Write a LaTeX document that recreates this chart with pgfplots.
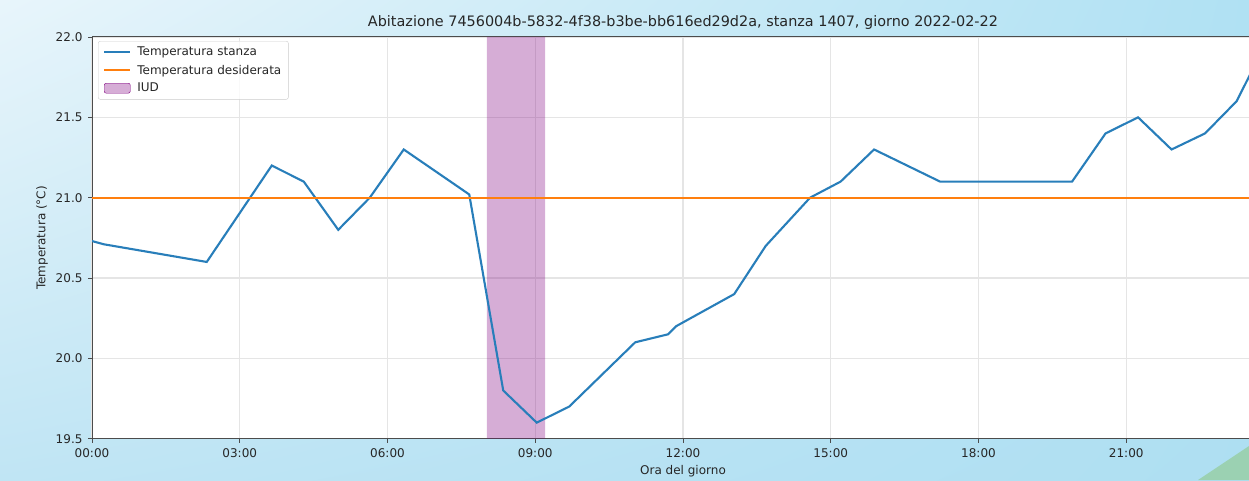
\documentclass[border=0pt]{standalone}
\usepackage{pgfplots}
\pgfplotsset{compat=1.18}
\usetikzlibrary{shadings}
\usepackage{fontspec}
\setmainfont{DejaVu Sans}
\definecolor{bgUL}{RGB}{232,245,251}
\definecolor{bgUR}{RGB}{176,225,243}
\definecolor{bgLL}{RGB}{192,229,244}
\definecolor{bgLR}{RGB}{174,223,242}
\definecolor{triG}{RGB}{155,209,178}
\definecolor{mblue}{RGB}{40,126,186}
\definecolor{morange}{RGB}{255,127,14}
\definecolor{mpurple}{RGB}{128,0,128}
\definecolor{txt}{RGB}{38,38,38}
\begin{document}
\begin{tikzpicture}[x=1pt,y=1pt]
\useasboundingbox (0,0) rectangle (1249,480);
\clip (0,0) rectangle (1249,480);
\shade[upper left=bgUL, upper right=bgUR, lower left=bgLL, lower right=bgLR] (0,0) rectangle (1249,480);
\fill[triG] (1198,0) -- (1249,34) -- (1249,0) -- cycle;
\begin{axis}[
  at={(92pt,41.3pt)}, anchor=south west,
  scale only axis, width=1182pt, height=401.7pt,
  axis background/.style={fill=white},
  xmin=0, xmax=24, ymin=19.5, ymax=22,
  xtick={0,3,6,9,12,15,18,21},
  xticklabels={00:00,03:00,06:00,09:00,12:00,15:00,18:00,21:00},
  ytick={19.5,20,20.5,21,21.5,22},
  tick label style={font=\fontsize{12}{14}\selectfont, text=txt},
  xticklabel style={yshift=-2.5pt},
  yticklabel style={xshift=-2pt, /pgf/number format/.cd, fixed, fixed zerofill, precision=1, assume math mode=true},
  tick pos=left, tick align=outside, major tick length=4pt,
  tick style={black!70, line width=0.9pt},
  axis line style={black!70, line width=1pt},
  grid=major, major grid style={line width=1.3pt, color=black!10},
  every axis title/.style={font=\fontsize{14.4}{16}\selectfont, text=txt, at={(axis description cs:0.5,1.035)}, anchor=center},
  title={Abitazione 7456004b-5832-4f38-b3be-bb616ed29d2a, stanza 1407, giorno 2022-02-22},
  xlabel={Ora del giorno},
  xlabel style={font=\fontsize{12}{14}\selectfont, text=txt, at={(axis description cs:0.5,-0.082)}, anchor=center},
  ylabel={Temperatura (°C)},
  ylabel style={font=\fontsize{12}{14}\selectfont, text=txt, at={(axis description cs:-0.0423,0.5)}, anchor=center, rotate=0},
  legend cell align=left,
  legend style={at={(axis description cs:0.0051,0.990)}, anchor=north west,
    draw=black!20, rounded corners=2pt, fill=white, fill opacity=0.8, text opacity=1,
    font=\fontsize{12}{14}\selectfont, text=txt, row sep=3.5pt, column sep=4pt, inner xsep=5pt, inner ysep=4pt},
]
\addplot[draw=none, fill=mpurple, fill opacity=0.32, forget plot] coordinates {(8.02,19.5) (8.02,22) (9.2,22) (9.2,19.5) (8.02,19.5)};
\addplot[mblue, line width=2.1pt, forget plot] coordinates {
(0,20.73) (0.24,20.71) (2.33,20.6) (3.65,21.2) (4.3,21.1) (5.0,20.8) (5.64,21.0) (6.33,21.3) (7.66,21.02)
(8.35,19.8) (9.03,19.6) (9.69,19.7) (11.03,20.1) (11.7,20.15) (11.86,20.2) (13.04,20.4) (13.68,20.7)
(14.58,21.0) (15.2,21.1) (15.88,21.3) (17.22,21.1) (19.9,21.1) (20.58,21.4) (21.24,21.5) (21.92,21.3)
(22.6,21.4) (23.24,21.6) (23.9,22.0)
};
\addplot[morange, line width=2.1pt, forget plot] coordinates {(0,21) (24,21)};
\addlegendimage{legend image code/.code={\draw[mblue, line width=2.1pt] (0pt,0pt) -- (26pt,0pt);}}
\addlegendentry{Temperatura stanza}
\addlegendimage{legend image code/.code={\draw[morange, line width=2.1pt] (0pt,0pt) -- (26pt,0pt);}}
\addlegendentry{Temperatura desiderata}
\addlegendimage{legend image code/.code={\fill[mpurple, fill opacity=0.32] (0pt,-5pt) rectangle (26pt,5pt);}}
\addlegendentry{IUD}
\end{axis}
\end{tikzpicture}
\end{document}
